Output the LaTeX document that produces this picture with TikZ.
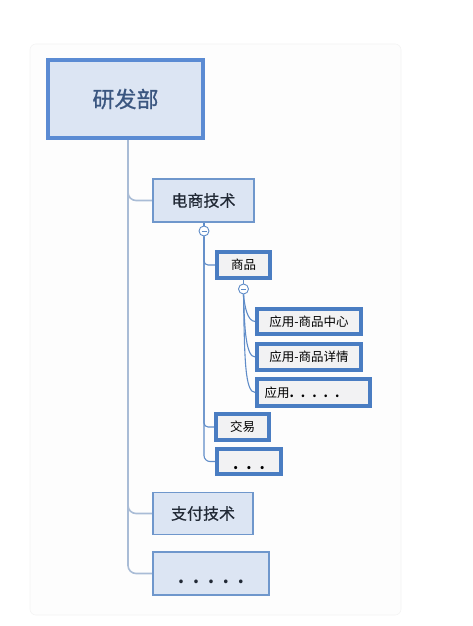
\documentclass[tikz,border=0pt]{standalone}
\usepackage{fontspec}
\setmainfont{Noto Sans CJK SC}
\newfontfamily\rootfont{Noto Sans CJK SC}[FakeBold=0.9]
\newfontfamily\secfont{Noto Sans CJK SC}[FakeBold=0.35]
\usetikzlibrary{backgrounds}
\newcommand{\dgap}{\hspace{9pt}}
\begin{document}
\begin{tikzpicture}[x=1pt,y=-1pt,
  rootbox/.style={draw=rootblue, line width=4pt, fill=boxfill, minimum width=155pt, minimum height=78pt, inner sep=0pt, font=\rootfont\fontsize{22}{22}\selectfont, text=roottext},
  secbox/.style={draw=secblue, line width=1.8pt, fill=boxfill, inner sep=0pt, font=\secfont\fontsize{16}{16}\selectfont, text=darktext},
  leafbox/.style={draw=leafblue, line width=3.5pt, fill=leaffill, inner sep=0pt, font=\fontsize{12.5}{12.5}\selectfont, text=black},
  mainline/.style={draw=trunkcol, line width=1.6pt, rounded corners=8pt},
  subline/.style={draw=subcol, line width=1.1pt},
  toggle/.style={circle, draw=subcol, line width=0.9pt, fill=white, minimum size=10pt, inner sep=0pt}
]
\definecolor{rootblue}{HTML}{5B8BD3}
\definecolor{secblue}{HTML}{6F97CC}
\definecolor{leafblue}{HTML}{4A7DC2}
\definecolor{boxfill}{HTML}{DCE5F3}
\definecolor{leaffill}{HTML}{F2F2F3}
\definecolor{roottext}{HTML}{3A5680}
\definecolor{darktext}{HTML}{222A36}
\definecolor{trunkcol}{HTML}{A9BCD6}
\definecolor{subcol}{HTML}{5F8CC8}
\definecolor{panelfill}{HTML}{FDFDFD}
\definecolor{paneldraw}{HTML}{F4F4F4}

\useasboundingbox (0,0) rectangle (472,626);

% nodes
\node[rootbox] (root) at (125.5,99) {研发部};
\node[secbox, minimum width=101pt, minimum height=43pt] (ec) at (203.5,200.5) {电商技术};
\node[secbox, minimum width=100pt, minimum height=42pt] (pay) at (203,513.5) {支付技术};
\node[secbox, minimum width=116pt, minimum height=43pt, font=\fontsize{17}{17}\selectfont\bfseries, text height=19pt, text depth=0pt] (more) at (211,573.5) {.\dgap.\dgap.\dgap.\dgap.};

\node[leafbox, minimum width=53pt, minimum height=26pt] (goods) at (243.5,265) {商品};
\node[leafbox, minimum width=104pt, minimum height=25pt] (appa) at (309,321.5) {应用-商品中心};
\node[leafbox, minimum width=104pt, minimum height=26pt] (appb) at (309,357) {应用-商品详情};
\node[leafbox, minimum width=113pt, minimum height=27pt, text width=98pt, align=left] (appc) at (313.5,392.5) {应用\textbf{.\hspace{7pt}.\hspace{7pt}.\hspace{7pt}.\hspace{7pt}.}};
\node[leafbox, minimum width=53pt, minimum height=26pt] (trade) at (242.5,427) {交易};
\node[leafbox, minimum width=64pt, minimum height=25pt, font=\fontsize{15}{15}\selectfont\bfseries, text height=15pt, text depth=0pt] (etc) at (249,461.5) {.\hspace{8pt}.\hspace{8pt}.};

\node[toggle] (t1) at (204,231) {};
\node[toggle] (t2) at (243.5,289) {};
\draw[subcol, line width=0.9pt] ([xshift=-2.5pt]t1.center) -- ([xshift=2.5pt]t1.center);
\draw[subcol, line width=0.9pt] ([xshift=-2.5pt]t2.center) -- ([xshift=2.5pt]t2.center);

% connectors and panel, behind the boxes
\begin{scope}[on background layer]
\fill[white] (0,0) rectangle (472,626);
\draw[paneldraw, fill=panelfill, rounded corners=6pt, line width=0.6pt] (30,44) rectangle (401,615);
\coordinate (trunk) at ([xshift=2.5pt]root.south);
\draw[mainline] (trunk) |- (ec.west);
\draw[mainline] (trunk) |- (pay.west);
\draw[mainline] (trunk) |- (more.west);

\draw[subline] (ec.south -| t1.north) -- (t1.north);
\draw[subline, rounded corners=4pt] (t1.south) |- (goods.west);
\draw[subline, rounded corners=4pt] (t1.south) |- (trade.west);
\draw[subline, rounded corners=6pt] (t1.south) |- (etc.west);

\draw[subline] (goods.south -| t2.north) -- (t2.north);
\draw[subline] (t2.south) .. controls (244.5,305) and (247,321.5) .. (appa.west);
\draw[subline] (t2.south) .. controls (244.5,330) and (246,357) .. (appb.west);
\draw[subline] (t2.south) .. controls (244.5,360) and (245,392.5) .. (appc.west);
\end{scope}
\end{tikzpicture}
\end{document}
